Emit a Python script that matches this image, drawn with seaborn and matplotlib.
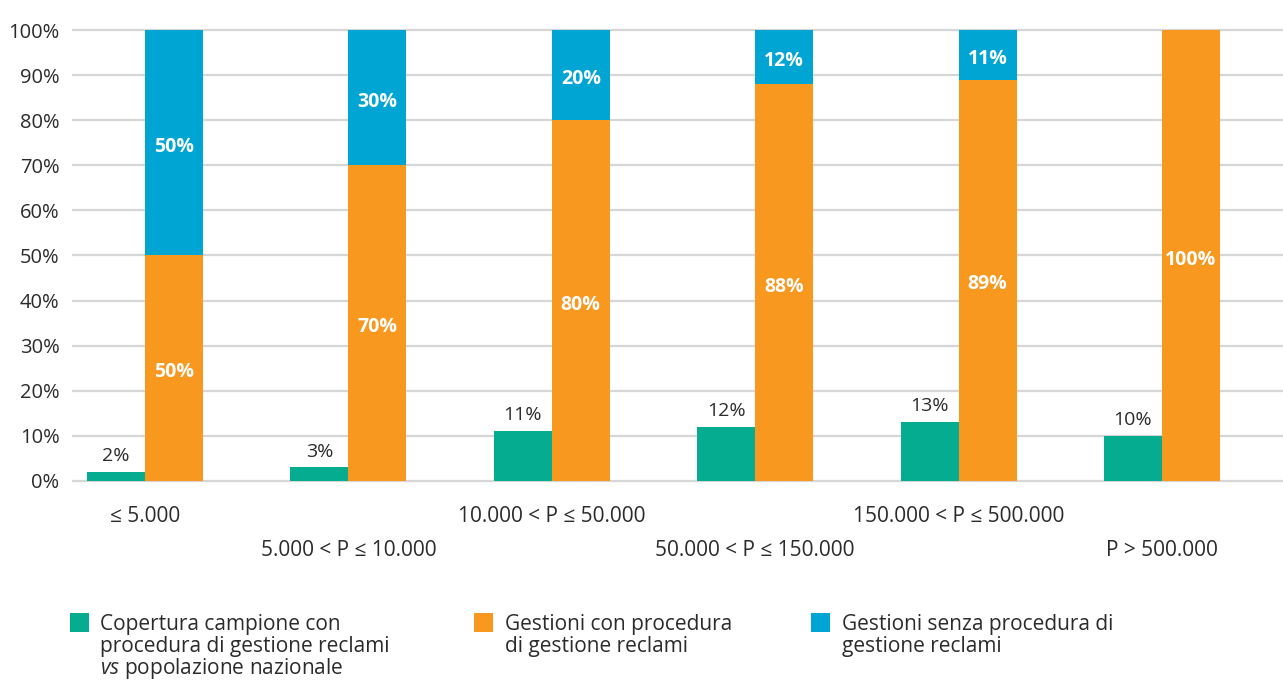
import numpy as np
import pandas as pd
import matplotlib
matplotlib.use("Agg")
import matplotlib.pyplot as plt
from matplotlib.patches import Rectangle
import seaborn as sns

# ---------------- data ----------------
categories = ["≤ 5.000", "5.000 < P ≤ 10.000", "10.000 < P ≤ 50.000",
              "50.000 < P ≤ 150.000", "150.000 < P ≤ 500.000", "P > 500.000"]
copertura = [2, 3, 11, 12, 13, 10]          # green
con_procedura = [50, 70, 80, 88, 89, 100]   # orange
senza_procedura = [50, 30, 20, 12, 11, 0]   # blue (stacked on orange)
y_ticks = list(range(0, 101, 10))
legend_lines = [
    ["Copertura campione con", "procedura di gestione reclami", "$\\mathit{vs}$ popolazione nazionale"],
    ["Gestioni con procedura", "di gestione reclami"],
    ["Gestioni senza procedura di", "gestione reclami"],
]

GREEN = "#06AC8F"
ORANGE = "#F8981F"
BLUE = "#00A5D4"
TEXT = "#2b2b2b"
GRID = "#d6d6d6"
FONT = "Open Sans"

sns.set_style("white")
plt.rcParams["font.family"] = [FONT, "DejaVu Sans"]
plt.rcParams["mathtext.fontset"] = "custom"
plt.rcParams["mathtext.it"] = f"{FONT}:italic"
plt.rcParams["mathtext.rm"] = FONT

W, H = 1283, 680
fig = plt.figure(figsize=(W / 100, H / 100), dpi=100)
ax_left, ax_top, ax_bot = 72, 28.2, 482.8
ax = fig.add_axes([ax_left / W, 1 - ax_bot / H, 1 - ax_left / W, (ax_bot - ax_top) / H])

# stacked top layer (orange + blue) drawn first
top = pd.DataFrame({
    "cat": categories * 2,
    "slot": ["g"] * len(categories) + ["o"] * len(categories),
    "value": [0] * len(categories) + [o + b for o, b in zip(con_procedura, senza_procedura)],
})
base = pd.DataFrame({
    "cat": categories * 2,
    "slot": ["g"] * len(categories) + ["o"] * len(categories),
    "value": copertura + con_procedura,
})

common = dict(x="cat", y="value", hue="slot", hue_order=["g", "o"], order=categories,
              width=0.57, dodge=True, saturation=1, errorbar=None, legend=False,
              linewidth=0, ax=ax)
sns.barplot(data=top, palette={"g": BLUE, "o": BLUE}, **common)
sns.barplot(data=base, palette={"g": GREEN, "o": ORANGE}, **common)

blue_c, green_c, orange_c = ax.containers[1], ax.containers[2], ax.containers[3]

ax.bar_label(green_c, labels=[f"{v}%" for v in copertura], padding=5,
             fontsize=14, color=TEXT)

inner = dict(ha="center", va="center", fontsize=14, color="white", fontweight="bold",
             textcoords="offset points", xytext=(0, -3))
for patch, o in zip(orange_c, con_procedura):
    ax.annotate(f"{o}%", (patch.get_x() + patch.get_width() / 2, o / 2), **inner)
for patch, o, b in zip(blue_c, con_procedura, senza_procedura):
    if b > 0:
        ax.annotate(f"{b}%", (patch.get_x() + patch.get_width() / 2, o + b / 2), **inner)

ax.set_ylim(-0.4, 100.4)
ax.set_xlim(-0.359, 5.595)
ax.set_yticks(y_ticks)
ax.set_yticklabels([f"{v}%" for v in y_ticks])
ax.set_xticks(range(len(categories)))
ax.set_xticklabels(categories)
ax.set_xlabel("")
ax.set_ylabel("")
ax.tick_params(axis="y", length=0, pad=9, labelsize=14.5, labelcolor=TEXT)
ax.tick_params(axis="x", length=0, labelsize=15, labelcolor=TEXT)
for i, tick in enumerate(ax.xaxis.get_major_ticks()):
    tick.set_pad(17 if i % 2 == 0 else 41)

ax.yaxis.grid(True, color=GRID, linewidth=1.6)
ax.xaxis.grid(False)
ax.set_axisbelow(True)
for s in ax.spines.values():
    s.set_visible(False)

# legend (manual, to match layout)
legend_colors = [GREEN, ORANGE, BLUE]
square_x = [70, 474, 811]
text_x = [100, 505, 842]
for col, sx, tx, lines in zip(legend_colors, square_x, text_x, legend_lines):
    fig.add_artist(Rectangle((sx / W, 1 - 632 / H), 19 / W, 19 / H,
                             transform=fig.transFigure, facecolor=col, edgecolor="none"))
    for j, line in enumerate(lines):
        fig.text(tx / W, 1 - (630 + j * 22) / H, line, fontsize=15, color=TEXT,
                 ha="left", va="baseline")

fig.savefig("out.png", dpi=100)
